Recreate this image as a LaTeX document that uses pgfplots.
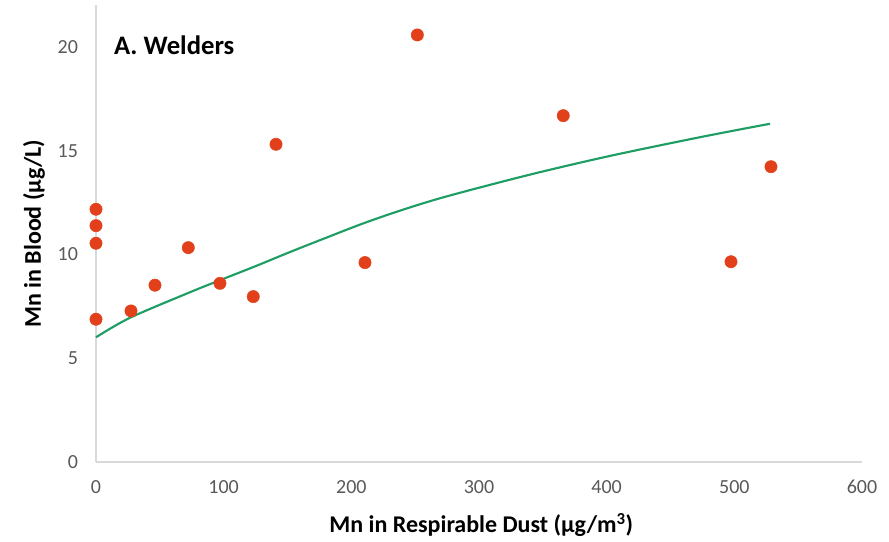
\documentclass[border=0pt]{standalone}
\usepackage{pgfplots}
\pgfplotsset{compat=1.18}
\usepackage{fontspec}
\setmainfont{Carlito}
\definecolor{dotc}{HTML}{E2401B}
\definecolor{fitc}{HTML}{1E9E64}
\definecolor{axc}{HTML}{D9D9D9}
\definecolor{tickc}{HTML}{595959}
\begin{document}
\begin{tikzpicture}
\useasboundingbox (-72pt,-60pt) rectangle (594.75pt,346.5pt);
\begin{axis}[
  at={(0,0)}, anchor=south west,
  scale only axis,
  width=574.5pt, height=342.4pt,
  xmin=0, xmax=600, ymin=0, ymax=22,
  axis lines=left,
  axis line style={-, draw=axc, line width=1.5pt},
  xtick={0,100,...,600},
  ytick={0,5,...,20},
  major tick length=0pt,
  tick label style={font=\fontsize{15}{18}\selectfont, text=tickc},
  /pgf/number format/assume math mode=true,
  xticklabel shift=10pt,
  yticklabel shift=10pt,
  xlabel={Mn in Respirable Dust (µg/m\textsuperscript{3})},
  ylabel={Mn in Blood (µg/L)},
  every axis x label/.style={at={(axis description cs:0.503,-0.138)}, anchor=center, font=\bfseries\fontsize{18}{21}\selectfont},
  every axis y label/.style={at={(axis description cs:-0.081,0.5)}, rotate=90, anchor=center, font=\bfseries\fontsize{18}{21}\selectfont},
  clip=false,
]
\addplot[fitc, line width=1.6pt, smooth, tension=0.5] coordinates {
  (0,6.01) (26.6,6.95) (73.6,8.18) (97.1,8.76) (125.9,9.46) (152,10.12) (180,10.8) (209.4,11.5) (240,12.15) (274.7,12.8) (340,13.85) (402.6,14.75) (473,15.65) (528,16.3)
};
\addplot[only marks, mark=*, mark size=4.6pt, color=dotc, mark options={draw=dotc, fill=dotc}] coordinates {
  (0,12.18) (0,11.39) (0,10.54) (0,6.88)
  (27.4,7.28) (46.2,8.52) (72.3,10.33) (97.1,8.61) (123.2,7.97)
  (141,15.31) (210.7,9.61) (251.7,20.58) (366,16.69)
  (497.4,9.65) (528.7,14.23)
};
\node[anchor=west, font=\bfseries\fontsize{20}{24}\selectfont] at (axis cs:10.5,20.1) {A. Welders};
\end{axis}
\end{tikzpicture}
\end{document}
